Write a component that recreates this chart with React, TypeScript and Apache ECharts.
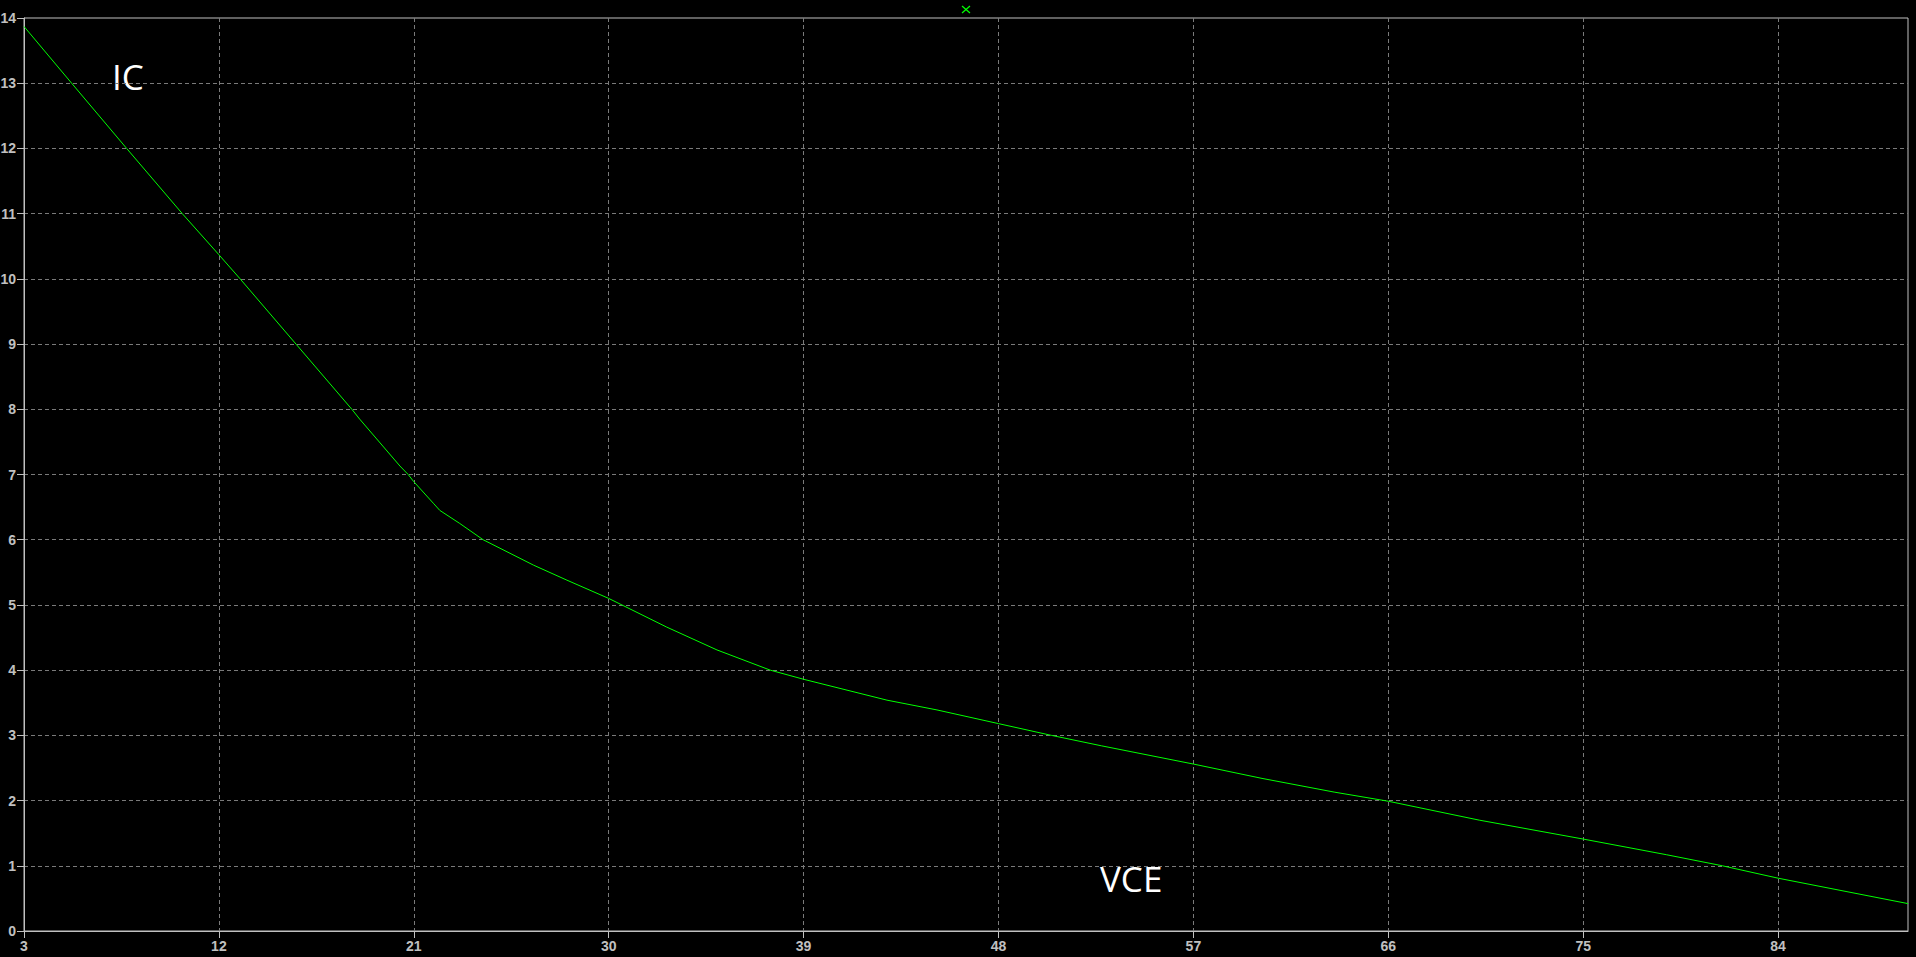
import React, { useEffect, useRef } from "react";
import * as echarts from "echarts";

// VCE (x) and IC (y) samples
const vce = [3, 5.2, 7.74, 10.31, 12, 12.98, 15.56, 18.14, 18.5, 20.36, 20.74, 21, 21.9, 22.2, 23.12, 24.2, 26.53, 28.07, 30, 32.68, 35, 37.46, 39, 42.85, 45.16, 48, 50.44, 52.75, 57, 60.17, 63.5, 66, 70.2, 75, 78.84, 81.43, 84, 90];
const ic = [13.87, 13.0, 12.0, 11.0, 10.37, 10.0, 9.0, 8.0, 7.85, 7.13, 7.0, 6.89, 6.56, 6.45, 6.25, 6.0, 5.61, 5.38, 5.1, 4.66, 4.31, 4.0, 3.86, 3.54, 3.39, 3.18, 3.0, 2.84, 2.56, 2.34, 2.13, 1.99, 1.7, 1.41, 1.17, 1.0, 0.81, 0.42];

const X_MIN = 3;
const X_MAX = 90;
const X_STEP = 9;
const Y_MIN = 0;
const Y_MAX = 14;
const Y_STEP = 1;

const yLabel = "IC";
const xLabel = "VCE";

export default function App() {
  const ref = useRef<HTMLDivElement>(null);
  useEffect(() => {
    if (!ref.current) return;
    const chart = echarts.init(ref.current, null, { renderer: "svg" });
    const axisGrey = "#c0c0c0";
    const gridGrey = "#7a7a7a";
    const data = vce.map((v, i) => [v - X_MIN, ic[i]]);
    chart.setOption({
      animation: false,
      backgroundColor: "#000",
      grid: {
        left: 24,
        right: 8,
        top: 18,
        bottom: 26,
        show: true,
        borderColor: axisGrey,
        borderWidth: 1,
        backgroundColor: "transparent",
        containLabel: false,
        outerBoundsMode: "none",
      },
      xAxis: {
        type: "value",
        min: 0,
        max: X_MAX - X_MIN,
        interval: X_STEP,
        axisLine: { show: true, onZero: false, lineStyle: { color: axisGrey, width: 1 } },
        axisTick: { show: true, length: 7, lineStyle: { color: axisGrey } },
        axisLabel: {
          show: true,
          margin: 8,
          showMaxLabel: false,
          color: axisGrey,
          fontFamily: "Liberation Sans",
          fontWeight: "bold",
          fontSize: 14,
          formatter: (v: number) => String(Math.round(v + X_MIN)),
        },
        splitLine: {
          show: true,
          showMinLine: false,
          showMaxLine: false,
          lineStyle: { color: gridGrey, type: [4, 3], width: 1 },
        },
      },
      yAxis: {
        type: "value",
        min: Y_MIN,
        max: Y_MAX,
        interval: Y_STEP,
        axisLine: { show: true, onZero: false, lineStyle: { color: axisGrey, width: 1 } },
        axisTick: { show: true, length: 7, lineStyle: { color: axisGrey } },
        axisLabel: {
          show: true,
          margin: 8,
          color: axisGrey,
          fontFamily: "Liberation Sans",
          fontWeight: "bold",
          fontSize: 14,
        },
        splitLine: {
          show: true,
          showMinLine: false,
          showMaxLine: false,
          lineStyle: { color: gridGrey, type: [4, 3], width: 1 },
        },
      },
      series: [
        {
          type: "line",
          data,
          showSymbol: false,
          symbol: "none",
          silent: true,
          lineStyle: { color: "#00ff00", width: 1 },
        },
      ],
      graphic: [
        {
          type: "text",
          left: 112,
          top: 59,
          style: { text: yLabel, fill: "#ffffff", font: "35px 'Open Sans'" },
        },
        {
          type: "text",
          left: 1100,
          top: 861,
          style: { text: xLabel, fill: "#ffffff", font: "35px 'Open Sans'" },
        },
        {
          type: "line",
          shape: { x1: 962, y1: 6, x2: 970, y2: 13 },
          style: { stroke: "#00ff00", lineWidth: 1.2 },
        },
        {
          type: "line",
          shape: { x1: 970, y1: 6, x2: 962, y2: 13 },
          style: { stroke: "#00ff00", lineWidth: 1.2 },
        },
      ],
    });
    return () => chart.dispose();
  }, []);
  return (
    <div
      ref={ref}
      style={{ position: "fixed", left: 0, top: 0, width: 1916, height: 957, background: "#000" }}
    />
  );
}
